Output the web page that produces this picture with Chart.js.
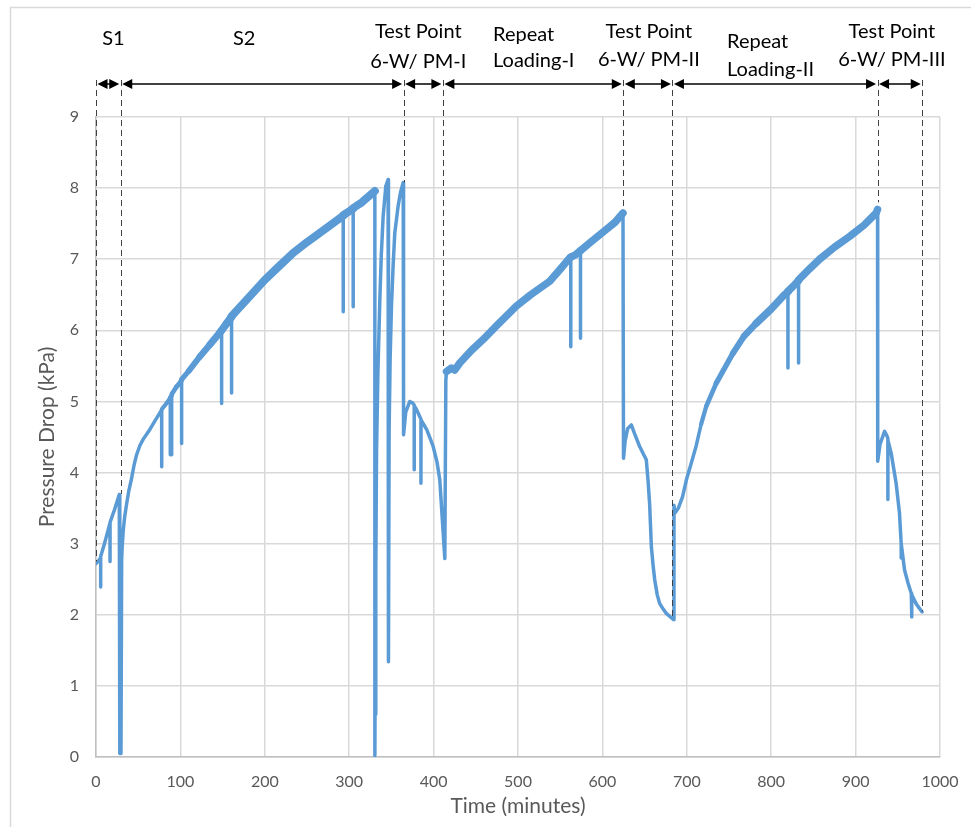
<!DOCTYPE html>
<html>
<head>
<meta charset="utf-8">
<script src="https://cdn.jsdelivr.net/npm/chart.js@4.4.1/dist/chart.umd.min.js"></script>
<style>
  body { margin: 0; background: #fff; }
  #wrap { width: 971px; height: 827px; }
</style>
</head>
<body>
<div id="wrap"><canvas id="pressureChart"></canvas></div>
<script>
// time (minutes) and pressure drop (kPa)
const timeMin = [
  0, 3, 5.5, 5.5, 5.6, 10, 16.6, 16.6, 16.7, 22, 27.6, 28.2, 29.6, 30.4, 31, 32.3, 34, 36.3, 39, 42.2,
  45, 48.1, 52, 56, 60, 64, 70, 77.8, 77.8, 77.9, 84, 88, 88, 88.1, 89.6, 89.6, 89.7, 95, 99.5, 101.4,
  101.4, 101.5, 110, 123, 135, 146.8, 148.8, 148.8, 148.9, 155, 160.6, 160.6, 160.7, 180, 200, 215, 233.7, 250, 265, 280,
  292.9, 292.9, 293, 300.8, 304.7, 304.7, 304.8, 315, 328.4, 330.4, 330.4, 330.6, 331.5, 332.4, 334, 336.3, 338, 340.2, 343.4, 346.1,
  346.5, 346.5, 347.3, 348.5, 350.1, 352, 354, 358, 361, 364, 364.4, 367, 371.8, 375, 377, 377, 377.1, 380, 385, 385,
  385.1, 392, 399.4, 404, 407.3, 410, 413.3, 414.5, 415.3, 421, 425, 431, 445, 458.6, 475, 498, 515, 537.6, 550, 561.3,
  562.5, 562.5, 562.6, 568, 574, 574, 574.1, 585, 604.7, 615, 624.4, 625, 627, 630, 634.3, 638, 644, 652, 654, 656,
  658, 660, 662, 665, 667.8, 672, 675.7, 684.4, 684.8, 686, 690, 695, 700, 705, 711, 717, 723, 735, 754.7, 768,
  782.3, 800, 814, 819.8, 819.8, 819.9, 826, 832.4, 832.4, 832.5, 845, 857.3, 875, 892.8, 910, 924.4, 926, 926.2, 929, 934.3,
  937, 938.2, 938.2, 938.3, 942.2, 948, 952, 954, 954, 954.1, 958, 962, 966, 966.5, 966.5, 966.6, 972, 978.8
];
const pressureKPa = [
  2.72, 2.76, 2.8, 2.39, 2.82, 3.0, 3.29, 2.75, 3.3, 3.48, 3.69, 0.05, 0.05, 2.77, 2.95, 3.19, 3.38, 3.56, 3.75, 3.92,
  4.1, 4.25, 4.38, 4.47, 4.54, 4.61, 4.73, 4.88, 4.08, 4.89, 4.98, 5.05, 4.25, 5.06, 5.08, 4.25, 5.1, 5.2, 5.26, 5.3,
  4.41, 5.31, 5.43, 5.63, 5.8, 5.97, 6.0, 4.97, 6.0, 6.1, 6.19, 5.12, 6.2, 6.45, 6.71, 6.88, 7.09, 7.24, 7.37, 7.5,
  7.61, 6.26, 7.62, 7.68, 7.71, 6.33, 7.72, 7.8, 7.94, 7.96, 0.02, 0.6, 2.6, 4.3, 5.4, 6.43, 7.05, 7.6, 8.03, 8.12,
  8.1, 1.34, 4.6, 5.6, 6.34, 6.9, 7.37, 7.75, 7.95, 8.08, 4.53, 4.85, 5.0, 4.98, 4.95, 4.04, 4.94, 4.88, 4.75, 3.85,
  4.74, 4.6, 4.37, 4.15, 3.9, 3.4, 2.79, 5.3, 5.42, 5.47, 5.44, 5.54, 5.72, 5.87, 6.07, 6.34, 6.5, 6.69, 6.86, 7.02,
  7.03, 5.77, 7.03, 7.06, 7.12, 5.89, 7.12, 7.23, 7.42, 7.52, 7.65, 4.2, 4.45, 4.62, 4.67, 4.55, 4.37, 4.18, 3.9, 3.55,
  2.96, 2.7, 2.49, 2.28, 2.16, 2.08, 2.02, 1.93, 3.54, 3.43, 3.5, 3.66, 3.92, 4.12, 4.37, 4.68, 4.93, 5.26, 5.68, 5.92,
  6.1, 6.3, 6.48, 6.54, 5.47, 6.55, 6.62, 6.7, 5.54, 6.71, 6.86, 7.0, 7.17, 7.32, 7.48, 7.65, 7.7, 4.16, 4.4, 4.58,
  4.52, 4.48, 3.62, 4.46, 4.27, 3.85, 3.43, 3.0, 2.8, 3.0, 2.63, 2.45, 2.3, 2.28, 1.97, 2.28, 2.15, 2.04
];

// test stages: boundaries (minutes), where each dashed marker meets the curve (kPa), labels
const stageBounds = [0, 29.3, 364.5, 411, 624.8, 683, 926, 979];
const boundLevels = [2.75, 3.7, 8.08, 5.45, 7.72, 1.93, 7.8, 2.05];
const stageLabels = [
  ["S1"], ["S2"], ["Test Point", "6-W/ PM-I"], ["Repeat", "Loading-I"],
  ["Test Point", "6-W/ PM-II"], ["Repeat", "Loading-II"], ["Test Point", "6-W/ PM-III"]
];

const xTicks = [0, 100, 200, 300, 400, 500, 600, 700, 800, 900, 1000];
const yTicks = [0, 1, 2, 3, 4, 5, 6, 7, 8, 9];

const BLUE = "#5b9bd5";
const GREY_TEXT = "#595959";
const FONT = "Lato, 'Open Sans', sans-serif";
const THIN = 3.5;

// noisy loading stretches show up as a thicker trace
function ramp(x, x0, x1, w0, w1) {
  return w0 + (w1 - w0) * (x - x0) / (x1 - x0);
}
function traceWidth(x) {
  if (x > 80 && x < 160) return ramp(x, 80, 160, 4, 8);
  if (x >= 160 && x < 331) return 8;
  if (x > 416 && x < 625) return 7.5;
  if (x > 715 && x < 790) return ramp(x, 715, 790, 4, 7.5);
  if (x >= 790 && x < 926) return 7.5;
  return THIN;
}

const points = timeMin.map((t, i) => ({ x: t, y: pressureKPa[i] }));

// label placement tweaks relative to each stage's middle
const labelLayout = [
  { dx: 5, top: 39, gap: 0, align: "center" },
  { dx: -18, top: 39, gap: 0, align: "center" },
  { dx: -5, top: 32, gap: 30, align: "center" },
  { left: 493, top: 35, gap: 26, align: "left" },
  { dx: 1, top: 32, gap: 28, align: "center" },
  { left: 727, top: 42, gap: 28, align: "left" },
  { dx: -8, top: 32, gap: 28, align: "center" }
];

const frame = {
  id: "frame",
  beforeDraw(chart) {
    const ctx = chart.ctx;
    ctx.save();
    ctx.fillStyle = "#fff";
    ctx.fillRect(0, 0, chart.width, chart.height);
    ctx.strokeStyle = "#d9d9d9";
    ctx.lineWidth = 1.5;
    ctx.strokeRect(10.5, 7.5, 1200, 1200);
    ctx.restore();
  }
};

const stages = {
  id: "stages",
  afterDatasetsDraw(chart) {
    const { ctx, scales: { x, y }, chartArea } = chart;
    const arrowY = chartArea.top - 33;
    const bx = stageBounds.map(v => x.getPixelForValue(v));

    ctx.save();
    // dashed markers
    ctx.strokeStyle = "#404040";
    ctx.lineWidth = 1;
    ctx.setLineDash([6, 4]);
    bx.forEach((px, i) => {
      ctx.beginPath();
      ctx.moveTo(Math.round(px) + 0.5, arrowY - 4);
      ctx.lineTo(Math.round(px) + 0.5, y.getPixelForValue(boundLevels[i]));
      ctx.stroke();
    });
    ctx.setLineDash([]);

    // double arrows
    ctx.strokeStyle = "#000";
    ctx.fillStyle = "#000";
    ctx.lineWidth = 1.5;
    const head = 10, half = 5;
    for (let i = 0; i < bx.length - 1; i++) {
      const a = bx[i] + 1.5, b = bx[i + 1] - 1.5;
      ctx.beginPath();
      ctx.moveTo(a + head - 1, arrowY);
      ctx.lineTo(b - head + 1, arrowY);
      ctx.stroke();
      ctx.beginPath();
      ctx.moveTo(a, arrowY);
      ctx.lineTo(a + head, arrowY - half);
      ctx.lineTo(a + head, arrowY + half);
      ctx.closePath();
      ctx.fill();
      ctx.beginPath();
      ctx.moveTo(b, arrowY);
      ctx.lineTo(b - head, arrowY - half);
      ctx.lineTo(b - head, arrowY + half);
      ctx.closePath();
      ctx.fill();
    }

    // stage labels
    ctx.font = "20px " + FONT;
    ctx.textBaseline = "middle";
    stageLabels.forEach((lines, i) => {
      const lay = labelLayout[i];
      const mid = (bx[i] + bx[i + 1]) / 2;
      ctx.textAlign = lay.align;
      const px = lay.align === "left" ? lay.left : mid + lay.dx;
      lines.forEach((txt, k) => ctx.fillText(txt, px, lay.top + k * lay.gap));
    });
    ctx.restore();
  }
};

new Chart(document.getElementById("pressureChart"), {
  type: "scatter",
  data: {
    datasets: [{
      label: "Pressure Drop",
      data: points,
      showLine: true,
      borderColor: BLUE,
      backgroundColor: BLUE,
      borderWidth: THIN,
      borderJoinStyle: "round",
      borderCapStyle: "round",
      pointRadius: 0,
      tension: 0,
      segment: {
        borderWidth: c => {
          const x0 = c.p0.parsed.x, x1 = c.p1.parsed.x;
          const dy = Math.abs(c.p1.parsed.y - c.p0.parsed.y);
          if (x1 - x0 < 1 || dy / (x1 - x0) > 0.4) return THIN;
          return traceWidth((x0 + x1) / 2);
        }
      }
    }]
  },
  options: {
    responsive: true,
    maintainAspectRatio: false,
    animation: false,
    layout: { padding: { left: 10, top: 117, right: 31, bottom: 0 } },
    plugins: { legend: { display: false }, tooltip: { enabled: false } },
    scales: {
      x: {
        type: "linear",
        min: 0,
        max: 1000,
        afterBuildTicks: s => { s.ticks = xTicks.map(v => ({ value: v })); },
        afterFit: s => { s.height = 70; s.paddingLeft = 0; s.paddingRight = 0; },
        grid: { color: "#d9d9d9", lineWidth: 1.5, drawTicks: false },
        border: { color: "#bfbfbf", width: 1.5 },
        ticks: {
          autoSkip: false, maxRotation: 0, padding: 15, color: GREY_TEXT,
          font: { family: FONT, size: 16 },
          callback: v => String(v)
        },
        title: { display: true, text: "Time (minutes)", color: GREY_TEXT, font: { family: FONT, size: 21 }, padding: { top: 0, bottom: 8 } }
      },
      y: {
        min: 0,
        max: 9,
        afterBuildTicks: s => { s.ticks = yTicks.map(v => ({ value: v })); },
        afterFit: s => { s.width = 86; },
        grid: { color: "#d9d9d9", lineWidth: 1.5, drawTicks: false },
        border: { color: "#bfbfbf", width: 1.5 },
        ticks: { padding: 17, color: GREY_TEXT, font: { family: FONT, size: 16 }, callback: v => String(v) },
        title: { display: true, text: "Pressure Drop (kPa)", color: GREY_TEXT, font: { family: FONT, size: 21 }, padding: { top: 25, bottom: 0 } }
      }
    }
  },
  plugins: [frame, stages]
});
</script>
</body>
</html>
